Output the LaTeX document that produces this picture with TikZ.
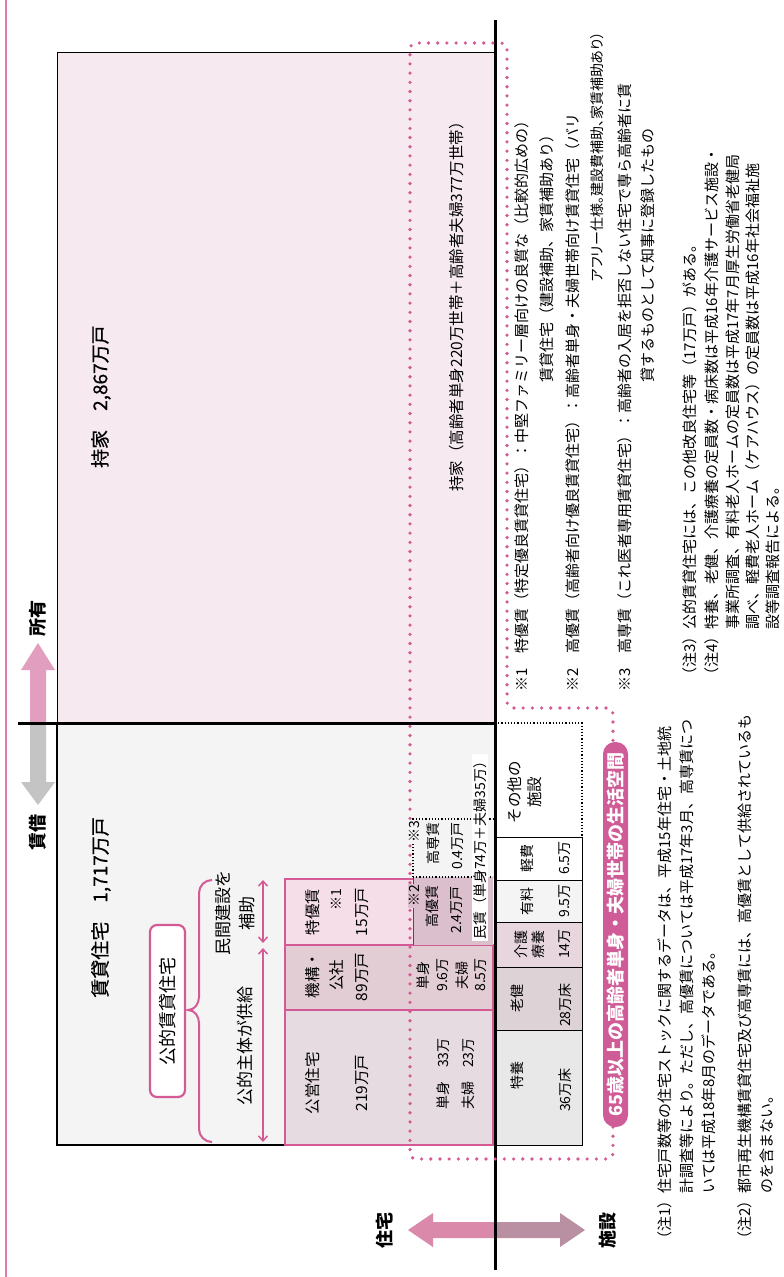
\documentclass[tikz,border=0pt]{standalone}
\usepackage{fontspec}
\setmainfont{Noto Sans CJK JP}
\usetikzlibrary{arrows.meta}
\definecolor{pk}{HTML}{D45A96}
\definecolor{pillc}{HTML}{CF5C97}
\definecolor{mochi}{HTML}{F6EAF0}
\definecolor{chin}{HTML}{F4F4F4}
\definecolor{tokuyu}{HTML}{F5DEE8}
\definecolor{kiko}{HTML}{E2CDD5}
\definecolor{koei}{HTML}{E6DBE0}
\definecolor{koyu}{HTML}{DCBFCC}
\definecolor{tokuyo}{HTML}{E8E8E8}
\definecolor{roken}{HTML}{DDD3D7}
\definecolor{kaigo}{HTML}{E8D6DE}
\definecolor{yuryo}{HTML}{F4F4F4}
\definecolor{arpk}{HTML}{E29EBE}
\definecolor{argr}{HTML}{C4C4C4}
\definecolor{arjt}{HTML}{DA89AB}
\definecolor{arsh}{HTML}{B98FA2}
\begin{document}
\begin{tikzpicture}[x=1pt,y=-1pt,
  tx/.style={rotate=90, inner sep=0pt, font=\fontsize{15.5}{18}\selectfont},
  sm/.style={rotate=90, inner sep=0pt, font=\fontsize{14}{16}\selectfont},
  nt/.style={rotate=90, inner sep=0pt, anchor=west, font=\fontsize{15}{17}\selectfont},
  lb/.style={rotate=90, inner sep=0pt, font=\fontsize{18}{20}\selectfont\bfseries},
  ttl/.style={rotate=90, inner sep=0pt, font=\fontsize{19}{22}\selectfont\addfontfeatures{FakeBold=0.6}},
  mid/.style={rotate=90, inner sep=0pt, font=\fontsize{17}{20}\selectfont},
  cellbox/.style={draw=pk, line width=2.2pt},
  facbox/.style={draw=black, line width=0.9pt},
  pkdots/.style={pk, line width=3.6pt, line cap=round, dash pattern=on 0pt off 9.2pt},
]
\useasboundingbox (0,0) rectangle (784,1277);
\fill[white] (0,0) rectangle (784,1277);
% frame line
\draw[pk!80, line width=2pt] (6,0) -- (6,1277);

% main boxes
\draw[fill=mochi, line width=0.9pt] (57,52) rectangle (495,723);
\draw[fill=chin, line width=1.3pt] (57,723) rectangle (495,1145);

% public rental cells
\fill[tokuyu] (285,879) rectangle (413,945);
\fill[kiko] (285,945) rectangle (493,1010);
\fill[koei] (285,1010) rectangle (493,1145);
\draw[cellbox] (413,945) -- (285,945) -- (285,879) -- (413,879);
\draw[cellbox] (285,945) rectangle (493,1010);
\draw[cellbox] (285,1010) rectangle (493,1145);

% koyu / kosen cells
\fill[koyu] (413,877) rectangle (493,945);
\draw[black!70, line width=1pt] (413,877) -- (413,945);
\draw[black, dotted, line width=1.2pt] (413,877) -- (493,877);
\draw[black, dotted, line width=1.2pt] (413,877) -- (413,819) -- (493,819);

% facility boxes
\draw[facbox, fill=tokuyo] (495,1030) rectangle (582,1145);
\draw[facbox, fill=roken] (495,967) rectangle (582,1030);
\draw[facbox, fill=kaigo] (495,922) rectangle (582,967);
\draw[facbox, fill=yuryo] (495,880) rectangle (582,922);
\draw[facbox, fill=white] (495,837) rectangle (582,880);
\draw[black, dotted, line width=1.2pt] (495,723) -- (582,723) -- (582,837);

% block arrows
\fill[arpk] (38,643) -- (55,670) -- (46,670) -- (46,723) -- (30,723) -- (30,670) -- (21,670) -- cycle;
\fill[argr] (30,723) -- (46,723) -- (46,782) -- (55,782) -- (38,805) -- (21,782) -- (30,782) -- cycle;
\fill[arjt] (408,1230) -- (433,1213) -- (433,1222) -- (495,1222) -- (495,1238) -- (433,1238) -- (433,1247) -- cycle;
\fill[arsh] (495,1222) -- (560,1222) -- (560,1213) -- (585,1230) -- (560,1247) -- (560,1238) -- (495,1238) -- cycle;

% axes
\draw[black, line width=3pt] (18,723) -- (495,723);
\draw[black, line width=3pt] (495,20) -- (495,1270);

% brace
\draw[pk, line width=2pt] (212,880) to[out=180,in=90] (199,893) -- (199,997)
  to[out=-90,in=0] (188,1010) to[out=0,in=90] (199,1023) -- (199,1129)
  to[out=-90,in=180] (212,1142);
% double arrows
\coordinate (a1) at (263,880); \coordinate (a2) at (263,943);
\coordinate (a3) at (263,948); \coordinate (a4) at (263,1142);
\draw[pk, line width=1.5pt, {Straight Barb[length=5pt,width=9pt]}-{Straight Barb[length=5pt,width=9pt]}] (a1) -- (a2);
\draw[pk, line width=1.5pt, {Straight Barb[length=5pt,width=9pt]}-{Straight Barb[length=5pt,width=9pt]}] (a3) -- (a4);

% 公的賃貸住宅 box
\draw[pk, line width=2.2pt, fill=white, rounded corners=7pt] (150,925) rectangle (185,1097);
\node[rotate=90, inner sep=0pt, font=\fontsize{18}{20}\selectfont] (kotekiL) at (167.5,1011) {公的賃貸住宅};

% dotted 65+ loop
\draw[pkdots, rounded corners=6pt] (613,1127) -- (613,1159) -- (410,1159) -- (410,43) -- (507,43) -- (507,708) -- (613,708) -- (613,742);

% pill
\fill[pillc, rounded corners=12pt] (603,742) rectangle (628,1127);
\node[rotate=90, inner sep=0pt, text=white, font=\fontsize{18}{20}\selectfont\bfseries] (pillT) at (615.5,934.5) {65歳以上の高齢者単身・夫婦世帯の生活空間};

% labels
\node[lb] (shoyu) at (38,618) {所有};
\node[lb] (chinshaku) at (38,832) {賃借};
\node[lb] (jutaku) at (385,1230) {住宅};
\node[lb] (shisetsu) at (608,1230) {施設};

% titles
\node[ttl, anchor=west] (mochiT) at (101,468) {持家　2,867万戸};
\node[ttl, anchor=east] (chinT) at (101,817) {賃貸住宅　1,717万戸};
\node[tx] (mochiE) at (457,303) {持家（高齢者単身220万世帯＋高齢者夫婦377万世帯）};

% left side texts
\node[mid] (minkan1) at (223,913) {民間建設を};
\node[mid] (minkan2) at (247,913) {補助};
\node[mid] (kyokyu) at (245,1046) {公的主体が供給};

% cell texts
\node[tx] (tokuyuA) at (313,912) {特優賃};
\node[sm] (tokuyuB) at (336,900) {※1};
\node[tx] (tokuyuC) at (362,912) {15万戸};
\node[tx] (kikoA) at (313,975) {機構・};
\node[tx] (kikoB) at (337,975) {公社};
\node[tx] (kikoC) at (362,977) {89万戸};
\node[tx] (koeiA) at (313,1083) {公営住宅};
\node[tx] (koeiB) at (362,1083) {219万戸};
\node[sm] (koeiC) at (443,1074) {単身　33万};
\node[sm] (koeiD) at (468,1074) {夫婦　23万};
\node[sm] (kikoD) at (423,975) {単身};
\node[sm] (kikoE) at (443,975) {9.6万};
\node[sm] (kikoF) at (462,975) {夫婦};
\node[sm] (kikoG) at (481,975) {8.5万};
\node[sm] (koyuA) at (432,906) {高優賃};
\node[sm] (koyuB) at (457,910) {2.4万戸};
\node[sm, fill=koyu, inner sep=1pt] (kome2) at (414,896) {※2};
\node[sm, fill=chin, inner sep=1pt] (kome3) at (414,832) {※3};
\node[sm] (kosenA) at (433,843) {高専賃};
\node[sm] (kosenB) at (458,846) {0.4万戸};
\node[sm, anchor=west, fill=white, inner sep=1pt] (minchin) at (480,941) {民賃（単身74万＋夫婦35万）};

% facility texts
\node[tx] (sonotaA) at (515,792) {その他の};
\node[tx] (sonotaB) at (535,792) {施設};
\node[sm] (keihiA) at (527,858) {軽費};
\node[sm] (keihiB) at (565,858) {6.5万};
\node[sm] (yuryoA) at (527,901) {有料};
\node[sm] (yuryoB) at (565,901) {9.5万};
\node[sm] (kaigoA) at (521,944) {介護};
\node[sm] (kaigoB) at (538,944) {療養};
\node[sm] (kaigoC) at (565,944) {14万};
\node[sm] (rokenA) at (517,998) {老健};
\node[sm] (rokenB) at (565,1005) {28万床};
\node[sm] (tokuyoA) at (517,1075) {特養};
\node[sm] (tokuyoB) at (565,1090) {36万床};

% definitions
\node[nt] (def1a) at (522,692) {※1　特優賃（特定優良賃貸住宅）：中堅ファミリー層向けの良質な（比較的広めの）};
\node[nt] (def1b) at (547,383) {賃貸住宅（建設補助、家賃補助あり）};
\node[nt] (def2a) at (573,692) {※2　高優賃（高齢者向け優良賃貸住宅）：高齢者単身・夫婦世帯向け賃貸住宅（バリ};
\node[nt, font=\fontsize{14}{16}\selectfont\addfontfeatures{RawFeature=+palt}] (def2b) at (597,282) {アフリー仕様。建設費補助、家賃補助あり）};
\node[nt] (def3a) at (625,692) {※3　高専賃（これ医者専用賃貸住宅）：高齢者の入居を拒否しない住宅で専ら高齢者に賃};
\node[nt] (def3b) at (648,383) {貸するものとして知事に登録したもの};

% notes
\node[nt] (n1a) at (665,1247) {（注1）住宅戸数等の住宅ストックに関するデータは、平成15年住宅・土地統};
\node[nt] (n1b) at (687,1247) {\phantom{（注1）}計調査等により。ただし、高優賃については平成17年3月、高専賃につ};
\node[nt] (n1c) at (709,1247) {\phantom{（注1）}いては平成18年8月のデータである。};
\node[nt] (n2a) at (745,1247) {（注2）都市再生機構賃貸住宅及び高専賃には、高優賃として供給されているも};
\node[nt] (n2b) at (767,1247) {\phantom{（注2）}のを含まない。};
\node[nt] (n3) at (690,683) {（注3）公的賃貸住宅には、この他改良住宅等（17万戸）がある。};
\node[nt] (n4a) at (712,683) {（注4）特養、老健、介護療養の定員数・病床数は平成16年介護サービス施設・};
\node[nt] (n4b) at (733,683) {\phantom{（注4）}事業所調査、有料老人ホームの定員数は平成17年7月厚生労働省老健局};
\node[nt] (n4c) at (753,683) {\phantom{（注4）}調べ、軽費老人ホーム（ケアハウス）の定員数は平成16年社会福祉施};
\node[nt] (n4d) at (773,683) {\phantom{（注4）}設等調査報告による。};
\end{tikzpicture}
\end{document}
